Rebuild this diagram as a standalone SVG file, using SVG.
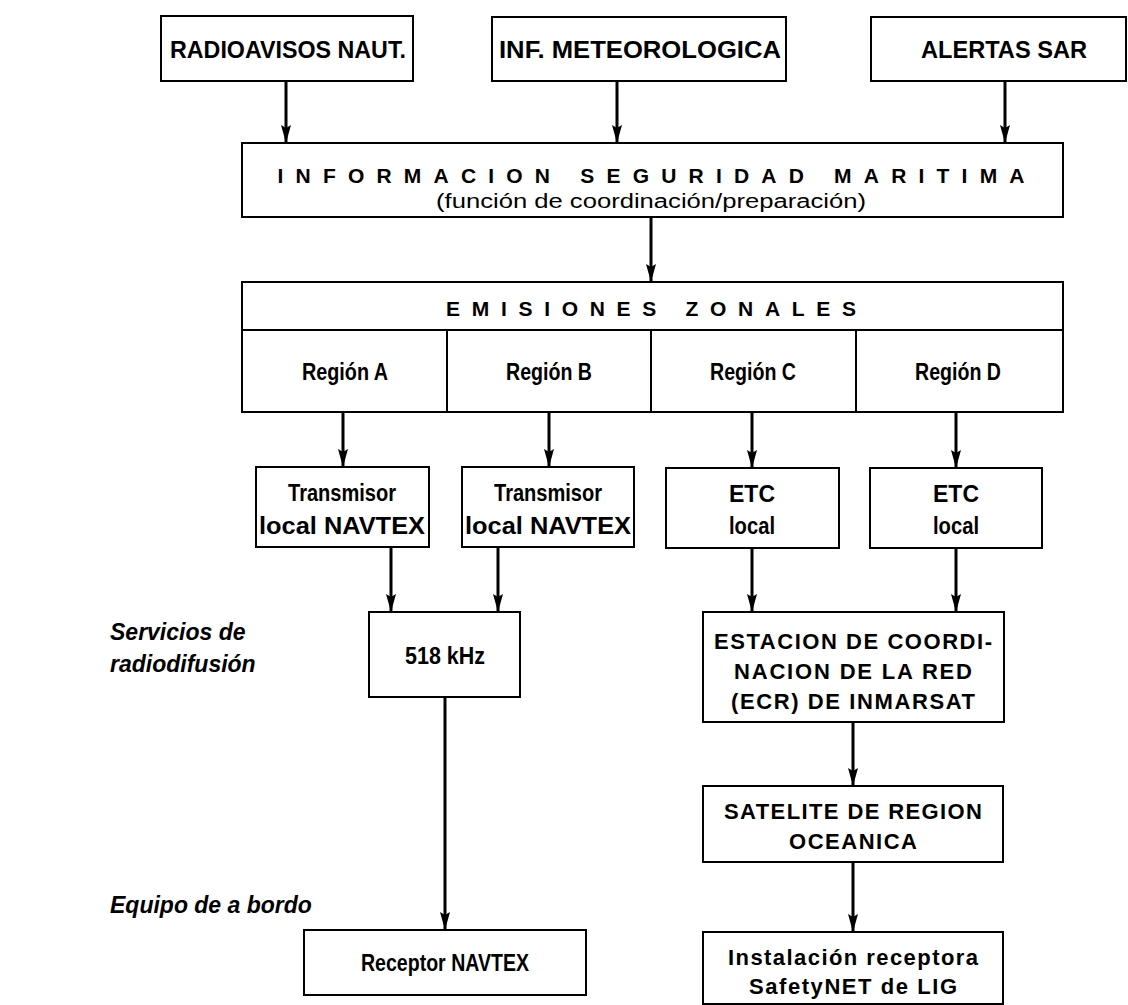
<svg xmlns="http://www.w3.org/2000/svg" width="1128" height="1005" viewBox="0 0 1128 1005">
<defs>
<marker id="ah" markerWidth="18" markerHeight="10" refX="18" refY="5" orient="auto" markerUnits="userSpaceOnUse" viewBox="0 0 18 10">
<path d="M0,0 L18,5 L0,10 L3,5 Z" fill="#000"/>
</marker>
<style>
.box{fill:#fff;stroke:#000;stroke-width:2}
.t{font-family:"Liberation Sans",Arial,sans-serif;font-weight:bold;font-size:21px;fill:#000;text-anchor:middle}
.big{font-size:23px}
.m{font-size:22px}
.r{font-family:"Liberation Sans",Arial,sans-serif;font-size:20px;fill:#000;text-anchor:middle}
.i{font-family:"Liberation Sans",Arial,sans-serif;font-weight:bold;font-style:italic;font-size:23px;fill:#000}
.c{stroke:#000;stroke-width:3;fill:none;marker-end:url(#ah)}
</style>
</defs>
<rect width="1128" height="1005" fill="#fff"/>
<g id="connectors">
<line class="c" x1="286" y1="81" x2="286" y2="143"/>
<line class="c" x1="617" y1="81" x2="617" y2="143"/>
<line class="c" x1="1005" y1="81" x2="1005" y2="143"/>
<line class="c" x1="651" y1="217" x2="651" y2="282"/>
<line class="c" x1="343" y1="412" x2="343" y2="467"/>
<line class="c" x1="549" y1="412" x2="549" y2="467"/>
<line class="c" x1="752" y1="412" x2="752" y2="468"/>
<line class="c" x1="956" y1="412" x2="956" y2="468"/>
<line class="c" x1="391" y1="547" x2="391" y2="612"/>
<line class="c" x1="498" y1="547" x2="498" y2="612"/>
<line class="c" x1="752" y1="548" x2="752" y2="612"/>
<line class="c" x1="956" y1="548" x2="956" y2="612"/>
<line class="c" x1="445" y1="697" x2="445" y2="930"/>
<line class="c" x1="853" y1="722" x2="853" y2="786"/>
<line class="c" x1="853" y1="862" x2="853" y2="932"/>
</g>
<g id="n-radioavisos">
<rect class="box" x="161" y="16" width="252" height="65"/>
<text class="t big" x="288" y="58" textLength="236" lengthAdjust="spacingAndGlyphs">RADIOAVISOS NAUT.</text>
</g>
<g id="n-meteo">
<rect class="box" x="492" y="17" width="294" height="64"/>
<text class="t big" x="640" y="58" textLength="282" lengthAdjust="spacingAndGlyphs">INF. METEOROLOGICA</text>
</g>
<g id="n-sar">
<rect class="box" x="871" y="17" width="255" height="64"/>
<text class="t big" x="1004" y="58" textLength="166" lengthAdjust="spacingAndGlyphs">ALERTAS SAR</text>
</g>
<g id="n-ism">
<rect class="box" x="242" y="143" width="821" height="74"/>
<text class="t" x="651" y="183" textLength="747" lengthAdjust="spacing">INFORMACION  SEGURIDAD  MARITIMA</text>
<text class="r" x="651" y="208" textLength="430" lengthAdjust="spacingAndGlyphs">(función de coordinación/preparación)</text>
</g>
<g id="n-emisiones">
<rect class="box" x="242" y="282" width="821" height="130"/>
<line x1="242" y1="330" x2="1063" y2="330" stroke="#000" stroke-width="2"/>
<line x1="447" y1="330" x2="447" y2="412" stroke="#000" stroke-width="2"/>
<line x1="651" y1="330" x2="651" y2="412" stroke="#000" stroke-width="2"/>
<line x1="856" y1="330" x2="856" y2="412" stroke="#000" stroke-width="2"/>
<text class="t" x="651" y="316" textLength="410" lengthAdjust="spacing">EMISIONES  ZONALES</text>
<text class="t big" x="345" y="380" textLength="86" lengthAdjust="spacingAndGlyphs">Región A</text>
<text class="t big" x="549" y="380" textLength="86" lengthAdjust="spacingAndGlyphs">Región B</text>
<text class="t big" x="753" y="380" textLength="86" lengthAdjust="spacingAndGlyphs">Región C</text>
<text class="t big" x="958" y="380" textLength="86" lengthAdjust="spacingAndGlyphs">Región D</text>
</g>
<g id="n-tx1">
<rect class="box" x="256" y="467" width="173" height="80"/>
<text class="t big" x="342" y="501" textLength="108" lengthAdjust="spacingAndGlyphs">Transmisor</text>
<text class="t big" x="342" y="534" textLength="166" lengthAdjust="spacingAndGlyphs">local NAVTEX</text>
</g>
<g id="n-tx2">
<rect class="box" x="462" y="467" width="172" height="80"/>
<text class="t big" x="548" y="501" textLength="108" lengthAdjust="spacingAndGlyphs">Transmisor</text>
<text class="t big" x="548" y="534" textLength="166" lengthAdjust="spacingAndGlyphs">local NAVTEX</text>
</g>
<g id="n-etc1">
<rect class="box" x="666" y="468" width="173" height="80"/>
<text class="t big" x="752" y="502">ETC</text>
<text class="t big" x="752" y="534" textLength="46" lengthAdjust="spacingAndGlyphs">local</text>
</g>
<g id="n-etc2">
<rect class="box" x="870" y="468" width="172" height="80"/>
<text class="t big" x="956" y="502">ETC</text>
<text class="t big" x="956" y="534" textLength="46" lengthAdjust="spacingAndGlyphs">local</text>
</g>
<g id="n-518">
<rect class="box" x="369" y="612" width="151" height="85"/>
<text class="t big" x="445" y="664" textLength="80" lengthAdjust="spacingAndGlyphs">518 kHz</text>
</g>
<g id="n-ecr">
<rect class="box" x="703" y="612" width="301" height="110"/>
<text class="t m" x="853" y="649" textLength="278" lengthAdjust="spacing">ESTACION DE COORDI-</text>
<text class="t m" x="853" y="679" textLength="238" lengthAdjust="spacing">NACION DE LA RED</text>
<text class="t m" x="853" y="709" textLength="244" lengthAdjust="spacing">(ECR) DE INMARSAT</text>
</g>
<g id="n-sat">
<rect class="box" x="703" y="786" width="300" height="76"/>
<text class="t m" x="853" y="819" textLength="258" lengthAdjust="spacing">SATELITE DE REGION</text>
<text class="t m" x="853" y="849" textLength="128" lengthAdjust="spacing">OCEANICA</text>
</g>
<g id="n-receptor">
<rect class="box" x="304" y="930" width="282" height="65"/>
<text class="t big" x="445" y="971" textLength="168" lengthAdjust="spacingAndGlyphs">Receptor NAVTEX</text>
</g>
<g id="n-instalacion">
<rect class="box" x="703" y="932" width="300" height="72"/>
<text class="t m" x="853" y="965" textLength="250" lengthAdjust="spacing">Instalación receptora</text>
<text class="t m" x="853" y="994" textLength="208" lengthAdjust="spacing">SafetyNET de LIG</text>
</g>
<g id="labels">
<text class="i" x="110" y="640">Servicios de</text>
<text class="i" x="110" y="672">radiodifusión</text>
<text class="i" x="110" y="913">Equipo de a bordo</text>
</g>
</svg>
